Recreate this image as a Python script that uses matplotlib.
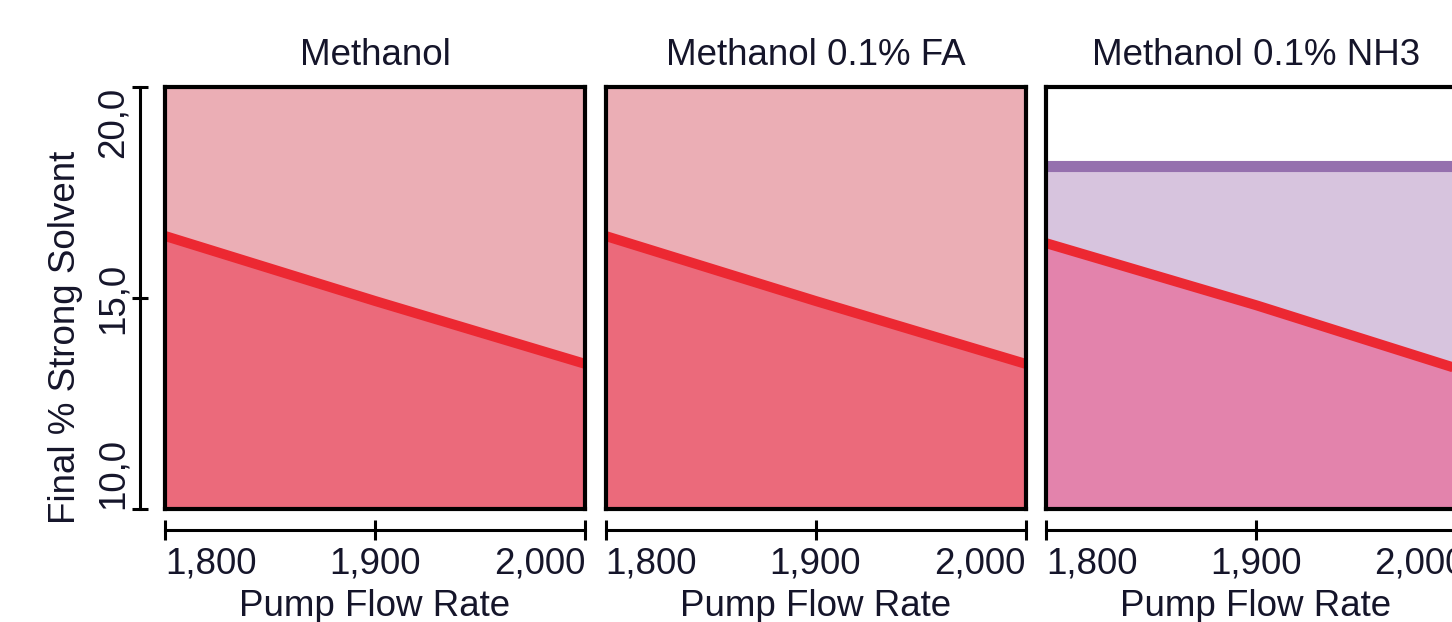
import matplotlib
matplotlib.use('Agg')
import matplotlib.pyplot as plt
from matplotlib.ticker import FixedLocator

plt.rcParams['font.family'] = ['Liberation Sans', 'DejaVu Sans']

# data
titles = ['Methanol', 'Methanol 0.1% FA', 'Methanol 0.1% NH3']
flow = [1800, 1900, 2000]
methanol_final = [16.47, 14.93, 13.44]
fa_final = [16.47, 14.93, 13.44]
nh3_final = [16.30, 14.83, 13.26]
nh3_upper = 18.13
x_ticks = [1800, 1900, 2000]
x_ticklabels = ['1,800', '1,900', '2,000']
y_ticks = [10, 15, 20]
y_ticklabels = ['10,0', '15,0', '20,0']

W, H = 1452, 622
txt = '#15152a'
fs = 26.5

fig = plt.figure(figsize=(W / 100, H / 100), dpi=100)


def fx(px):
    return px / W


def fy(py):
    return 1 - py / H


panel_left = [165, 605.5, 1046]
pw = 420
top, bottom = 87, 509

finals = [methanol_final, fa_final, nh3_final]
for i, left in enumerate(panel_left):
    ax = fig.add_axes([fx(left), fy(bottom), pw / W, (bottom - top) / H])
    ax.set_xlim(1800, 2000)
    ax.set_ylim(10, 20)
    vals = finals[i]
    if i < 2:
        ax.fill_between(flow, vals, 20, color='#ebaeb5', lw=0)
        ax.fill_between(flow, 10, vals, color='#eb6a7b', lw=0)
    else:
        ax.fill_between(flow, vals, nh3_upper, color='#d7c4de', lw=0)
        ax.fill_between(flow, 10, vals, color='#e383ac', lw=0)
        ax.plot([1800, 2000], [nh3_upper, nh3_upper], color='#9570ae',
                lw=8, solid_capstyle='butt')
    ax.plot(flow, vals, color='#ec2832', lw=7.2, solid_capstyle='butt')
    ax.set_xticks([])
    ax.set_yticks([])
    for s in ax.spines.values():
        s.set_linewidth(3)
        s.set_color('black')
    ax.set_title(titles[i], fontsize=fs, color=txt, pad=16)

    # separate x axis under the panel
    axx = fig.add_axes([fx(left), fy(530), pw / W, 0.0001])
    axx.set_xlim(1800, 2000)
    axx.patch.set_visible(False)
    for k in ['top', 'left', 'right']:
        axx.spines[k].set_visible(False)
    axx.spines['bottom'].set_linewidth(2.2)
    axx.set_yticks([])
    axx.xaxis.set_major_locator(FixedLocator(x_ticks))
    axx.set_xticklabels(x_ticklabels)
    axx.tick_params(axis='x', direction='inout', length=15, width=2.2,
                    labelsize=fs, labelcolor=txt, pad=4.5)
    labs = axx.get_xticklabels()
    labs[0].set_ha('left')
    labs[-1].set_ha('right')
    axx.set_xlabel('Pump Flow Rate', fontsize=fs, color=txt, labelpad=5)

# separate y axis
axy = fig.add_axes([fx(140), fy(bottom), 0.0001, (bottom - top) / H])
axy.set_ylim(10, 20)
axy.patch.set_visible(False)
for k in ['top', 'bottom', 'right']:
    axy.spines[k].set_visible(False)
axy.spines['left'].set_linewidth(2.2)
axy.set_xticks([])
axy.yaxis.set_major_locator(FixedLocator(y_ticks))
axy.set_yticklabels(y_ticklabels, rotation=90)
axy.tick_params(axis='y', direction='inout', length=12, width=2.2,
                labelsize=fs, labelcolor=txt, pad=1)
ylabs = axy.get_yticklabels()
for lab in ylabs:
    lab.set_va('center')
    lab.set_ha('right')
ylabs[0].set_va('bottom')
ylabs[-1].set_va('top')

fig.text(fx(66), fy(337), 'Final % Strong Solvent', rotation=90,
         ha='center', va='center', fontsize=fs, color=txt)

fig.savefig('out.png', dpi=100)
